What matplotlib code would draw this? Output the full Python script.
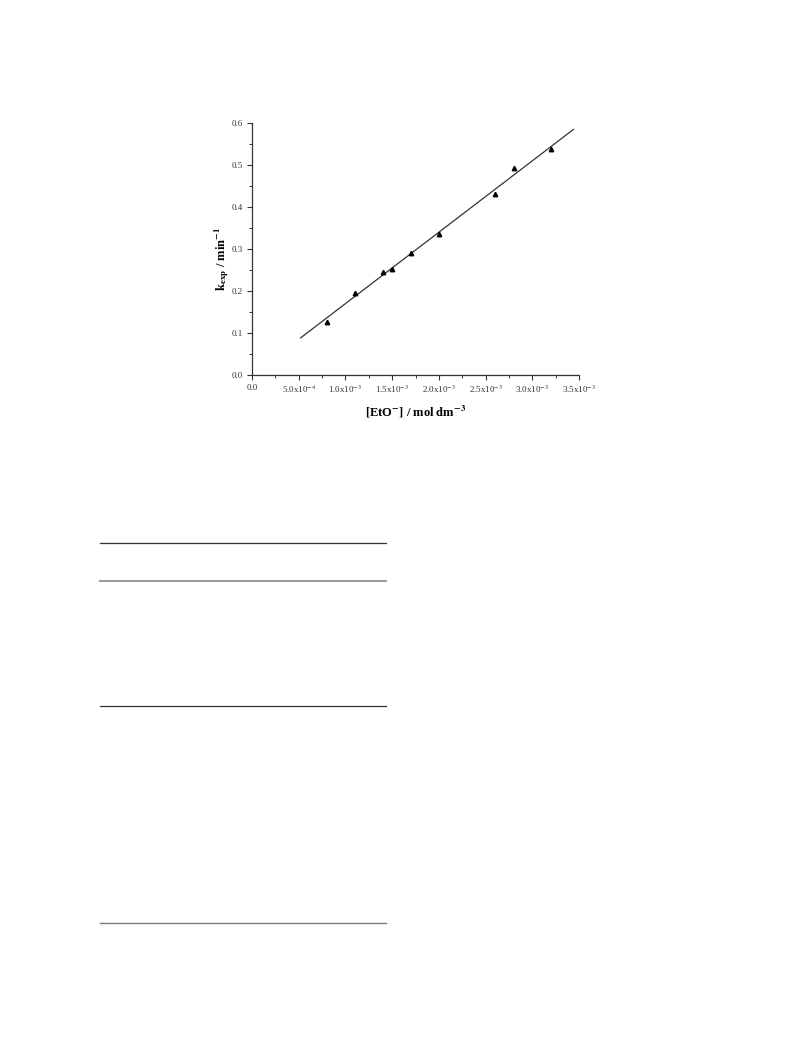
import numpy as np
import matplotlib
matplotlib.use("Agg")
import matplotlib.pyplot as plt
from matplotlib.lines import Line2D
from matplotlib.ticker import FixedLocator, MultipleLocator

plt.rcParams['font.family'] = ['Liberation Serif', 'DejaVu Serif']
plt.rcParams['mathtext.fontset'] = 'stix'

# Data
eto_conc = [8.0e-4, 1.1e-3, 1.4e-3, 1.5e-3, 1.7e-3, 2.0e-3, 2.6e-3, 2.8e-3, 3.2e-3]
k_exp = [0.127, 0.195, 0.244, 0.251, 0.291, 0.335, 0.430, 0.493, 0.537]
fit_range = [5.2e-4, 3.44e-3]
x_ticks = [0.0, 5.0e-4, 1.0e-3, 1.5e-3, 2.0e-3, 2.5e-3, 3.0e-3, 3.5e-3]
x_tick_labels = ['0.0', r'5.0x10$^{-4}$', r'1.0x10$^{-3}$', r'1.5x10$^{-3}$',
                 r'2.0x10$^{-3}$', r'2.5x10$^{-3}$', r'3.0x10$^{-3}$', r'3.5x10$^{-3}$']
y_ticks = [0.0, 0.1, 0.2, 0.3, 0.4, 0.5, 0.6]
y_tick_labels = ['0.0', '0.1', '0.2', '0.3', '0.4', '0.5', '0.6']

fig = plt.figure(figsize=(7.92, 10.56), dpi=100)
ax = fig.add_axes([0.3182, 0.6449, 0.4129, 0.2389])

slope, intercept = np.polyfit(eto_conc, k_exp, 1)
xf = np.array(fit_range)
ax.plot(xf, slope * xf + intercept, color='#333333', lw=0.9)
ax.plot(eto_conc, k_exp, linestyle='none', marker='^', ms=3.2, color='black')

ax.set_xlim(0, 3.5e-3)
ax.set_ylim(0, 0.6)
ax.xaxis.set_major_locator(FixedLocator(x_ticks))
ax.set_xticklabels(x_tick_labels)
ax.yaxis.set_major_locator(FixedLocator(y_ticks))
ax.set_yticklabels(y_tick_labels)
ax.xaxis.set_minor_locator(MultipleLocator(2.5e-4))
ax.yaxis.set_minor_locator(MultipleLocator(0.05))
for s in ['top', 'right']:
    ax.spines[s].set_visible(False)
for s in ['left', 'bottom']:
    ax.spines[s].set_color('#333333')
    ax.spines[s].set_linewidth(0.9)
ax.tick_params(which='major', direction='out', length=3.5, width=0.8, labelsize=6.5,
               colors='#333333', pad=3)
ax.tick_params(which='minor', direction='out', length=2, width=0.7, colors='#333333')
ax.set_xlabel(r'[EtO$^{\mathbf{-}}$] / mol dm$^{\mathbf{-3}}$', fontsize=9,
              fontweight='bold', labelpad=6)
ax.set_ylabel(r'k$_{\mathbf{exp}}$ / min$^{\mathbf{-1}}$', fontsize=9,
              fontweight='bold')
ax.yaxis.set_label_coords(-0.064, 0.46)

# decorative table rules below the figure
def hline(y_px, color, lw):
    fig.add_artist(Line2D([100 / 792, 386 / 792], [1 - y_px / 1056, 1 - y_px / 1056],
                          transform=fig.transFigure, color=color, lw=lw))

hline(543.3, '#333333', 0.9)
hline(581, '#999999', 1.4)
hline(706, '#333333', 0.9)
hline(923.3, '#777777', 1.0)

fig.savefig('out.png', dpi=100)
